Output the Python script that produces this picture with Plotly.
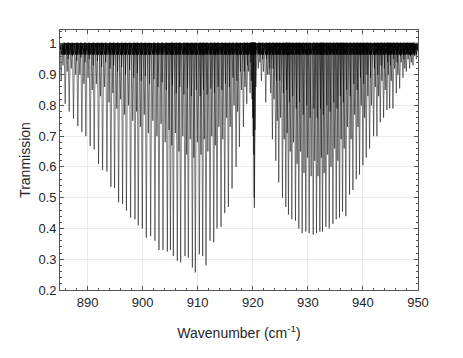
import plotly.graph_objects as go

# ---- data: absorption line centres (cm^-1) and minimum transmission ----
p_centres = [885.21, 885.94, 886.67, 887.45, 888.24, 888.97, 889.70, 890.48, 891.21, 892.00,
             892.73, 893.52, 894.24, 894.91, 895.64, 896.36, 897.06, 897.82, 898.61, 899.21,
             899.94, 900.67, 901.46, 902.24, 902.97, 903.70, 904.49, 905.05, 905.58, 906.30,
             906.91, 907.70, 908.30, 909.03, 909.57, 910.30, 910.91, 911.51, 912.24, 912.91,
             913.51, 914.24, 914.91, 915.57, 916.24, 916.97, 917.57, 918.30, 918.91, 919.51]
p_depths = [0.88, 0.805, 0.78, 0.757, 0.733, 0.714, 0.70, 0.668, 0.657, 0.61,
            0.59, 0.585, 0.535, 0.532, 0.485, 0.48, 0.458, 0.435, 0.43, 0.41,
            0.40, 0.37, 0.375, 0.36, 0.33, 0.33, 0.325, 0.33, 0.31, 0.295,
            0.29, 0.31, 0.305, 0.273, 0.257, 0.316, 0.31, 0.28, 0.36, 0.355,
            0.40, 0.405, 0.45, 0.47, 0.53, 0.60, 0.665, 0.73, 0.805, 0.84]

q_centres = [919.75, 919.88, 919.98, 920.08, 920.18, 920.25, 920.30, 920.40, 920.55]
q_depths = [0.88, 0.82, 0.76, 0.70, 0.64, 0.50, 0.467, 0.72, 0.86]

r_centres = [921.00, 921.57, 922.36, 922.97, 923.57, 924.18, 924.72, 925.39, 926.00, 926.48,
             927.09, 927.76, 928.36, 928.97, 929.63, 930.24, 930.97, 931.57, 932.18, 932.66,
             933.27, 933.88, 934.55, 935.15, 935.75, 936.30, 936.90, 937.57, 938.18, 938.79,
             939.39, 940.00, 940.60, 941.21, 941.94, 942.54, 943.15, 943.75, 944.36, 944.85,
             945.45, 946.06, 946.67, 947.27, 947.88, 948.48, 949.09, 949.70]
r_depths = [0.92, 0.88, 0.81, 0.90, 0.69, 0.62, 0.55, 0.50, 0.47, 0.445,
            0.43, 0.425, 0.40, 0.385, 0.39, 0.385, 0.38, 0.385, 0.39, 0.39,
            0.405, 0.40, 0.415, 0.43, 0.435, 0.455, 0.44, 0.51, 0.525, 0.56,
            0.575, 0.605, 0.63, 0.66, 0.70, 0.70, 0.745, 0.76, 0.785, 0.79,
            0.79, 0.84, 0.855, 0.89, 0.91, 0.92, 0.93, 0.95]

# weaker (hot-band) lines forming the dark upper envelope
p2_centres = [885.55, 886.30, 887.05, 887.85, 888.60, 889.35, 890.10, 890.85, 891.60, 892.35,
              893.10, 893.90, 894.60, 895.30, 896.00, 896.70, 897.45, 898.20, 898.90, 899.60,
              900.30, 901.05, 901.85, 902.60, 903.35, 904.10, 904.80, 905.30, 905.95, 906.60,
              907.30, 908.00, 908.65, 909.30, 909.95, 910.60, 911.20, 911.85, 912.55, 913.20,
              913.85, 914.55, 915.25, 915.90, 916.60, 917.25, 917.95, 918.60, 919.20]
p2_depths = [0.93, 0.91, 0.92, 0.90, 0.90, 0.87, 0.89, 0.85, 0.87, 0.83,
             0.86, 0.81, 0.84, 0.79, 0.82, 0.77, 0.80, 0.75, 0.78, 0.73,
             0.77, 0.71, 0.75, 0.70, 0.74, 0.68, 0.72, 0.67, 0.71, 0.65,
             0.70, 0.64, 0.69, 0.63, 0.68, 0.64, 0.69, 0.65, 0.70, 0.67,
             0.73, 0.69, 0.76, 0.73, 0.80, 0.78, 0.85, 0.86, 0.91]

r2_centres = [921.30, 921.95, 922.65, 923.25, 923.85, 924.45, 925.05, 925.70, 926.25, 926.80,
              927.40, 928.05, 928.65, 929.30, 929.95, 930.60, 931.25, 931.85, 932.45, 932.95,
              933.60, 934.20, 934.85, 935.45, 936.05, 936.60, 937.20, 937.85, 938.50, 939.10,
              939.70, 940.30, 940.90, 941.55, 942.25, 942.85, 943.45, 944.05, 944.60, 945.15,
              945.75, 946.35, 946.95, 947.60, 948.20, 948.80, 949.40]
r2_depths = [0.94, 0.91, 0.90, 0.84, 0.82, 0.75, 0.76, 0.69, 0.71, 0.65,
             0.68, 0.61, 0.65, 0.58, 0.63, 0.57, 0.62, 0.57, 0.63, 0.58,
             0.64, 0.60, 0.66, 0.62, 0.69, 0.66, 0.73, 0.69, 0.77, 0.73,
             0.80, 0.76, 0.83, 0.80, 0.86, 0.83, 0.88, 0.85, 0.90, 0.88,
             0.92, 0.90, 0.94, 0.92, 0.95, 0.94, 0.96]

w_centres = [885.75, 886.50, 887.25, 888.05, 888.80, 889.55, 890.30, 891.05, 891.80, 892.55,
             893.30, 894.10, 894.75, 895.45, 896.20, 896.90, 897.65, 898.40, 899.05, 899.75,
             900.50, 901.25, 902.05, 902.80, 903.55, 904.30, 905.40, 906.10, 906.75, 907.50,
             908.15, 908.85, 909.75, 910.45, 911.05, 911.70, 912.40, 913.05, 913.70, 914.40,
             915.05, 915.75, 916.40, 917.10, 917.75, 918.45, 919.05, 919.65,
             921.15, 921.80, 922.50, 923.10, 923.70, 924.30, 924.90, 925.55, 926.15, 926.65,
             927.25, 927.90, 928.50, 929.15, 929.80, 930.40, 931.10, 931.70, 932.30, 932.80,
             933.45, 934.05, 934.70, 935.30, 935.90, 936.45, 937.05, 937.70, 938.35, 938.95,
             939.55, 940.15, 940.75, 941.40, 942.10, 942.70, 943.30, 943.90, 944.50, 945.00,
             945.60, 946.20, 946.80, 947.45, 948.05, 948.65, 949.25, 949.85]
w_depths = [0.965, 0.95, 0.96, 0.945, 0.955, 0.94, 0.95, 0.93, 0.945, 0.925,
            0.94, 0.92, 0.93, 0.91, 0.925, 0.90, 0.915, 0.89, 0.905, 0.88,
            0.895, 0.87, 0.885, 0.86, 0.875, 0.85, 0.865, 0.84, 0.86, 0.835,
            0.855, 0.83, 0.85, 0.83, 0.85, 0.835, 0.855, 0.84, 0.86, 0.85,
            0.87, 0.86, 0.89, 0.88, 0.91, 0.91, 0.93, 0.94,
            0.97, 0.95, 0.95, 0.92, 0.92, 0.88, 0.88, 0.84, 0.85, 0.81,
            0.83, 0.79, 0.81, 0.77, 0.80, 0.76, 0.79, 0.76, 0.79, 0.77,
            0.80, 0.78, 0.81, 0.79, 0.83, 0.81, 0.85, 0.83, 0.87, 0.85,
            0.89, 0.87, 0.90, 0.89, 0.92, 0.90, 0.93, 0.92, 0.94, 0.93,
            0.95, 0.94, 0.96, 0.95, 0.97, 0.96, 0.97, 0.98]

baseline = 1.002
half_width = 0.2      # drawing width of each absorption dip (style)
band_floor = 0.965    # lower edge of the saturated dark band drawn near the baseline (style)

lines = sorted(zip(p_centres + q_centres + r_centres + p2_centres + r2_centres + w_centres,
                   p_depths + q_depths + r_depths + p2_depths + r2_depths + w_depths))
xs, ys, band_y = [], [], []
for c, d in lines:
    xs += [c - half_width, c, c + half_width]
    ys += [baseline, d, baseline]
    band_y += [baseline, max(d, band_floor), baseline]

FONT = "Liberation Sans, Arial, sans-serif"
fig = go.Figure()
fig.add_trace(go.Scatter(x=xs, y=ys, mode="lines",
                         line=dict(color="black", width=0.5), hoverinfo="skip"))
fig.add_trace(go.Scatter(x=xs, y=band_y, mode="lines",
                         line=dict(color="black", width=0.9), hoverinfo="skip"))

axis_common = dict(showline=True, linecolor="#555555", linewidth=0.8, mirror="ticks",
                   ticks="inside", ticklen=4, tickcolor="#555555", tickwidth=0.8,
                   showgrid=True, gridcolor="#ebebeb", gridwidth=1, zeroline=False,
                   automargin=False,
                   tickfont=dict(family=FONT, size=13, color="#262626"))

fig.update_xaxes(range=[885, 950], tickvals=[890, 900, 910, 920, 930, 940, 950],
                 minor=dict(dtick=2, ticks="inside", ticklen=2.5, tickcolor="#555555", showgrid=False),
                 title=dict(text="Wavenumber (cm<sup>-1</sup>)", standoff=19,
                            font=dict(family=FONT, size=14, color="#262626")),
                 **axis_common)
fig.update_yaxes(range=[0.2, 1.045], tickvals=[0.2, 0.3, 0.4, 0.5, 0.6, 0.7, 0.8, 0.9, 1.0],
                 ticktext=["0.2", "0.3", "0.4", "0.5", "0.6", "0.7", "0.8", "0.9", "1"],
                 minor=dict(dtick=0.02, ticks="inside", ticklen=2.5, tickcolor="#555555", showgrid=False),
                 title=dict(text="Tranmission", standoff=4,
                            font=dict(family=FONT, size=14, color="#262626")),
                 **axis_common)

# the page body adds an 8 px offset, so margins are shifted to place the axes like the reference
fig.update_layout(width=463, height=358, margin=dict(l=52, r=53, t=22, b=76),
                  paper_bgcolor="white", plot_bgcolor="white", showlegend=False)

fig.write_html("out.html")
